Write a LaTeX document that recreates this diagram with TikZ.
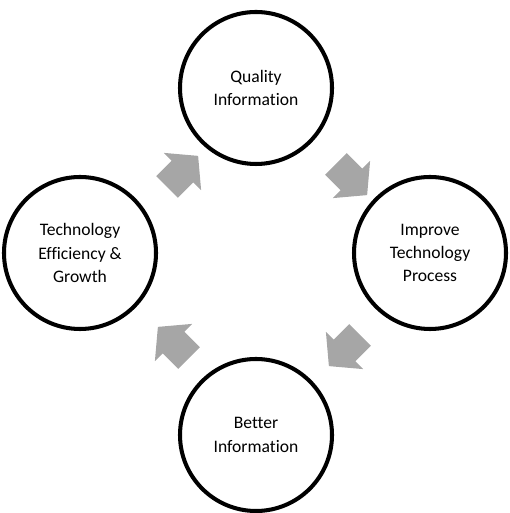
\documentclass[tikz,border=0pt]{standalone}
\usepackage{fontspec}
\setmainfont[Ligatures=NoCommon]{Carlito}
\usetikzlibrary{shapes.arrows}
\definecolor{arrowgray}{RGB}{166,166,166}

\begin{document}
\begin{tikzpicture}[
    stage/.style={circle,draw,line width=2.3pt,minimum size=3.04cm,
      align=center,font=\fontsize{10}{13.3}\selectfont},
    blockarw/.style={single arrow,fill=arrowgray,inner xsep=0pt,
      inner ysep=0.3cm,minimum height=0.88cm,
      single arrow head extend=0.22cm,single arrow tip angle=100} ]
  \useasboundingbox (0,0) rectangle (10.18,10.26);
  \node[stage] (Quality) at (5.12,8.50) {Quality\\Information};
  \node[stage] (Improve) at (8.60,5.20) {Improve\\Technology\\Process};
  \node[stage] (Better) at (5.12,1.56) {Better\\Information};
  \node[stage] (Growth) at (1.60,5.20) {Technology\\Efficiency \&\\Growth};
  \node[blockarw,rotate=45] (GrowthQuality) at (3.56,6.74) {};
  \node[blockarw,rotate=-45] (QualityImprove) at (6.94,6.76) {};
  \node[blockarw,rotate=-135] (ImproveBetter) at (6.98,3.34) {};
  \node[blockarw,rotate=135] (BetterGrowth) at (3.56,3.32) {};
\end{tikzpicture}
\end{document}
